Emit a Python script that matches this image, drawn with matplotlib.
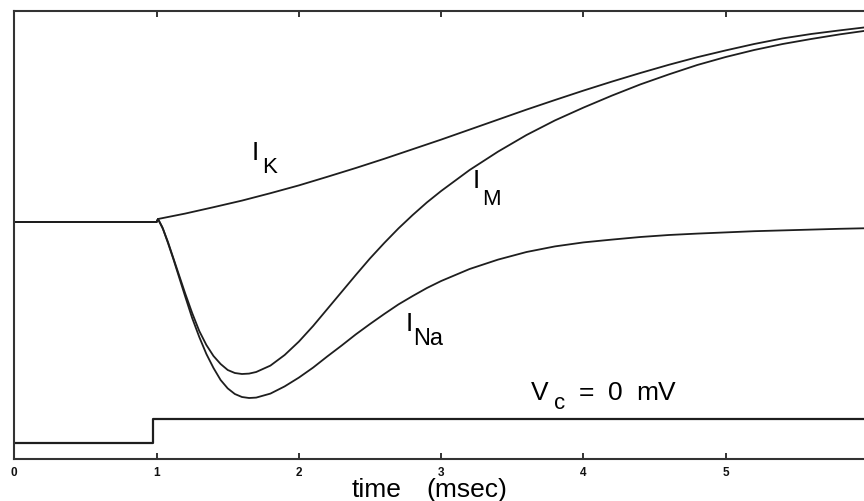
import matplotlib
matplotlib.use("Agg")
import matplotlib.pyplot as plt

plt.rcParams['font.family'] = ['Liberation Sans', 'DejaVu Sans']

# time in msec, currents in arbitrary units (baseline = 0)
ik_t = [0.0, 1.0, 1.01, 1.2, 1.4, 1.6, 1.8, 2.0, 2.2, 2.4, 2.6, 2.8, 3.0,
        3.2, 3.4, 3.6, 3.8, 4.0, 4.2, 4.4, 4.6, 4.8, 5.0, 5.2, 5.4, 5.6,
        5.8, 6.0]
ik_i = [0.0, 0.0, 0.075, 0.21, 0.37, 0.535, 0.72, 0.915, 1.13, 1.35, 1.58,
        1.82, 2.06, 2.31, 2.56, 2.81, 3.05, 3.285, 3.51, 3.725, 3.93, 4.12,
        4.29, 4.45, 4.59, 4.70, 4.79, 4.875]

im_t = [0.0, 1.0, 1.01, 1.04, 1.08, 1.12, 1.16, 1.2, 1.25, 1.3, 1.35, 1.4,
        1.45, 1.5, 1.55, 1.6, 1.65, 1.7, 1.8, 1.9, 2.0, 2.1, 2.2, 2.3, 2.4,
        2.5, 2.6, 2.7, 2.8, 2.9, 3.0, 3.2, 3.4, 3.6, 3.8, 4.0, 4.2, 4.4,
        4.6, 4.8, 5.0, 5.2, 5.4, 5.6, 5.8, 6.0]
im_i = [0.0, 0.0, 0.075, -0.125, -0.5, -0.925, -1.35, -1.775, -2.275, -2.725,
        -3.075, -3.35, -3.55, -3.7, -3.775, -3.8, -3.79, -3.75, -3.59, -3.325,
        -2.99, -2.6, -2.175, -1.75, -1.325, -0.91, -0.525, -0.16, 0.175, 0.49,
        0.775, 1.3, 1.76, 2.175, 2.54, 2.86, 3.16, 3.44, 3.69, 3.925, 4.125,
        4.3, 4.45, 4.575, 4.69, 4.79]

ina_t = [0.0, 1.0, 1.01, 1.045, 1.08, 1.12, 1.16, 1.2, 1.25, 1.3, 1.35, 1.4,
         1.45, 1.5, 1.55, 1.6, 1.65, 1.7, 1.8, 1.9, 2.0, 2.1, 2.2, 2.3, 2.4,
         2.5, 2.6, 2.7, 2.8, 2.9, 3.0, 3.2, 3.4, 3.6, 3.8, 4.0, 4.2, 4.4,
         4.6, 4.8, 5.0, 5.2, 5.4, 5.6, 5.8, 6.0]
ina_i = [0.0, 0.0, 0.075, -0.175, -0.525, -0.95, -1.4, -1.85, -2.4, -2.875,
         -3.3, -3.65, -3.95, -4.16, -4.3, -4.375, -4.4, -4.39, -4.29, -4.11,
         -3.89, -3.64, -3.36, -3.09, -2.81, -2.55, -2.3, -2.06, -1.85, -1.65,
         -1.475, -1.175, -0.94, -0.75, -0.61, -0.51, -0.44, -0.375, -0.325,
         -0.29, -0.26, -0.23, -0.21, -0.19, -0.17, -0.155]

# command voltage step (drawn schematically under the currents)
vc_t = [0.0, 0.975, 0.975, 6.0]
vc_y = [-5.525, -5.525, -4.925, -4.925]

xticks = [0, 1, 2, 3, 4, 5, 6]

fig = plt.figure(figsize=(8.64, 5.01), dpi=100)
ax = fig.add_axes([14.3 / 864, 1 - 459 / 501, (868 - 14.3) / 864, 448 / 501])

lc = '#1e1e1e'
ax.plot(ik_t, ik_i, color=lc, lw=1.3)
ax.plot(im_t, im_i, color=lc, lw=1.3)
ax.plot(ina_t, ina_i, color=lc, lw=1.3)
ax.plot(vc_t, vc_y, color=lc, lw=1.6)

ax.set_xlim(0, 6)
ax.set_ylim(-5.925, 5.275)
ax.set_xticks(xticks)
ax.set_xticklabels([str(x) for x in xticks], fontsize=8.5, fontweight='bold')
ax.set_yticks([])
ax.tick_params(axis='x', direction='in', top=True, length=4, width=1.2,
               pad=6, colors='#111111')
for s in ax.spines.values():
    s.set_linewidth(1.5)
    s.set_color('#333333')

# curve labels
ax.text(1.67, 1.55, 'I', fontsize=19, va='baseline')
ax.text(1.74, 1.225, 'K', fontsize=16, va='baseline')
ax.text(3.22, 0.85, 'I', fontsize=19, va='baseline')
ax.text(3.285, 0.425, 'M', fontsize=16, va='baseline')
ax.text(2.75, -2.725, 'I', fontsize=19, va='baseline')
ax.text(2.80, -3.075, 'Na', fontsize=17, va='baseline')

ax.text(3.63, -4.45, 'V', fontsize=19, va='baseline')
ax.text(3.79, -4.68, 'c', fontsize=16, va='baseline')
ax.text(3.97, -4.45, '=', fontsize=19, va='baseline')
ax.text(4.17, -4.45, '0', fontsize=19, va='baseline')
ax.text(4.37, -4.45, 'mV', fontsize=19, va='baseline')

fig.text(352 / 864, 1 - 497 / 501, 'time', fontsize=19,
         ha='left', va='baseline')
fig.text(426 / 864, 1 - 497 / 501, '(msec)', fontsize=19,
         ha='left', va='baseline')

fig.savefig('out.png', dpi=100)
